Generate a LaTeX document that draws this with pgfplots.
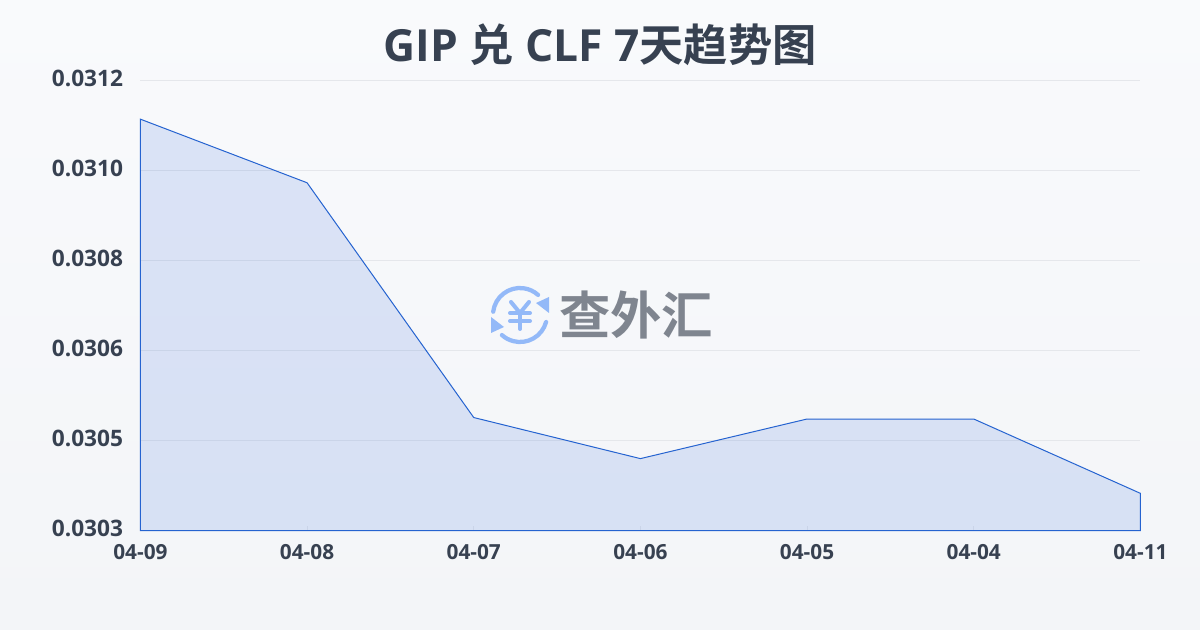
\documentclass[border=0pt]{standalone}
\usepackage{pgfplots}
\pgfplotsset{compat=1.18}
\usepackage{fontspec}
\setmainfont{Open Sans}
\newfontfamily\cjk{Noto Sans CJK SC}[BoldFont={Noto Sans CJK SC Bold}]
\definecolor{bgtop}{HTML}{F9FAFC}
\definecolor{bgbot}{HTML}{F3F5F8}
\definecolor{ink}{HTML}{374151}
\definecolor{gridc}{HTML}{E5E7EB}
\definecolor{lineb}{HTML}{2563D0}
\definecolor{fillb}{HTML}{2A62D8}
\definecolor{logob}{HTML}{93B9F8}
\definecolor{logog}{HTML}{7F858F}
\pgfplotstableread{
x y
0 0.031121
1 0.030991
2 0.030511
3 0.030427
4 0.030508
5 0.030508
6 0.030356
}\ratedata
\begin{document}
\begin{tikzpicture}[x=0.75pt,y=0.75pt]
\path[use as bounding box,top color=bgtop,bottom color=bgbot,draw=none] (0,0) rectangle (1200,630);
\begin{axis}[
  at={(105.3pt,74.6pt)},anchor=south west,
  scale only axis,width=750pt,height=337.5pt,
  xmin=0,xmax=6,ymin=0.03028,ymax=0.0312,
  axis line style={draw=none},
  xtick={0,...,6},
  xticklabels={04-09,04-08,04-07,04-06,04-05,04-04,04-11},
  ytick={0.03028,0.030464,0.030648,0.030832,0.031016,0.0312},
  yticklabels={0.0303,0.0305,0.0306,0.0308,0.0310,0.0312},
  xtick pos=bottom,
  xtick style={draw=gridc,line width=0.75pt},
  ytick style={draw=none},
  major tick length=3.75pt,
  ymajorgrids,
  grid style={draw=gridc,line width=0.75pt},
  xticklabel style={font=\bfseries\fontsize{15.6}{18}\selectfont,text=ink,yshift=-7pt},
  yticklabel style={font=\bfseries\fontsize{17}{20}\selectfont,text=ink,xshift=-9.5pt,yshift=1.6pt},
  scaled y ticks=false,
  clip=false,
]
\addplot[draw=lineb,line width=0.75pt,fill=fillb,fill opacity=0.14,draw opacity=1,sharp plot] table[x=x,y=y]{\ratedata} \closedcycle;
\end{axis}
\node[font=\bfseries\fontsize{33.2}{40}\selectfont,text=ink] at (600,585) {GIP {\cjk 兑} CLF 7{\cjk 天趋势图}};
% watermark
\node[font=\cjk\bfseries\fontsize{38.5}{44}\selectfont,text=logog,anchor=center] at (636,315) {查外汇};
\begin{scope}[shift={(520,315)},draw=logob,line width=3.2pt,line cap=round]
  \draw (173:27) arc[start angle=173,end angle=48,radius=27];
  \draw (-15:27) arc[start angle=-15,end angle=-132,radius=27];
  \fill[logob] (29,18) -- (29,2) -- (16,12) -- cycle;
  \fill[logob] (-29,-18) -- (-29,-2) -- (-16,-12) -- cycle;
  \begin{scope}[line width=3pt]
  \draw (-9,13) -- (0,2) -- (9,13);
  \draw (0,2) -- (0,-14);
  \draw (-10,2) -- (10,2);
  \draw (-10,-6) -- (10,-6);
  \end{scope}
\end{scope}
\end{tikzpicture}
\end{document}
